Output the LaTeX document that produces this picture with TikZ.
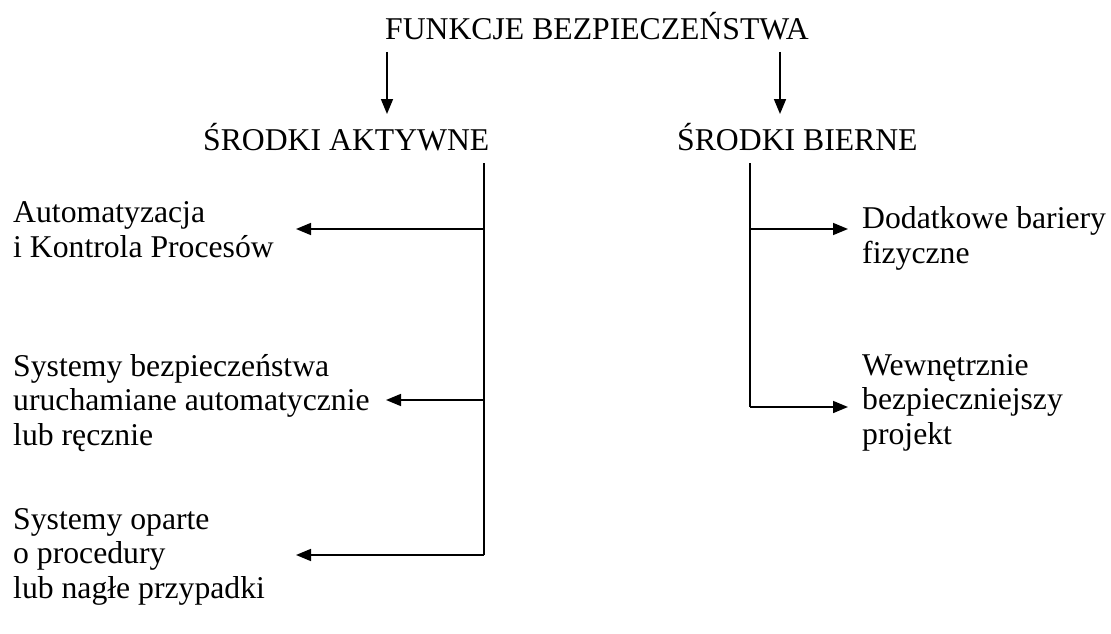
\documentclass[tikz,border=0pt]{standalone}
\usepackage{fontspec}
\setmainfont{Liberation Serif}
\usetikzlibrary{arrows.meta}
\begin{document}
\begin{tikzpicture}[x=1pt,y=-1pt,
  lbl/.style={anchor=base west, inner sep=0pt, align=left,
              font=\fontsize{31.7}{34.2}\selectfont},
  bar/.style={line width=1.6pt},
  conn/.style={bar, -{Triangle[length=15pt,width=12pt]}}]
\useasboundingbox (0,0) rectangle (1111,634);

% headings
\node[lbl] (title)  at (385,40)  {FUNKCJE BEZPIECZEŃSTWA};
\node[lbl] (active) at (203,150) {ŚRODKI AKTYWNE};
\node[lbl] (passive) at (677,150) {ŚRODKI BIERNE};

% active measures (base anchor = baseline of the last line)
\node[lbl] (a1) at (13,257) {Automatyzacja\\i Kontrola Procesów};
\node[lbl] (a2) at (13,445) {Systemy bezpieczeństwa\\uruchamiane automatycznie\\lub ręcznie};
\node[lbl] (a3) at (13,598) {Systemy oparte\\o procedury\\lub nagłe przypadki};

% passive measures
\node[lbl] (p1) at (862,263) {Dodatkowe bariery\\fizyczne};
\node[lbl] (p2) at (862,444) {Wewnętrznie\\bezpieczniejszy\\projekt};

% arrows from the title
\coordinate (tA) at (387,52);
\coordinate (tB) at (780,52);
\draw[conn] (tA) -- (387,114);
\draw[conn] (tB) -- (780,114);

% spine of the active branch
\coordinate (sA0) at (484,163);
\coordinate (sA3) at (484,555);
\draw[bar] (sA0) -- (sA3);
\coordinate (ta1) at (296,229);
\coordinate (ta2) at (386,400);
\coordinate (ta3) at (296,555);
\draw[conn] (sA0 |- ta1) -- (ta1);
\draw[conn] (sA0 |- ta2) -- (ta2);
\draw[conn] (sA3) -- (ta3);

% spine of the passive branch
\coordinate (sB0) at (750,163);
\coordinate (sB2) at (750,407);
\draw[bar] (sB0) -- (sB2);
\coordinate (tp1) at (848,229);
\coordinate (tp2) at (848,407);
\draw[conn] (sB0 |- tp1) -- (tp1);
\draw[conn] (sB2) -- (tp2);
\end{tikzpicture}
\end{document}
